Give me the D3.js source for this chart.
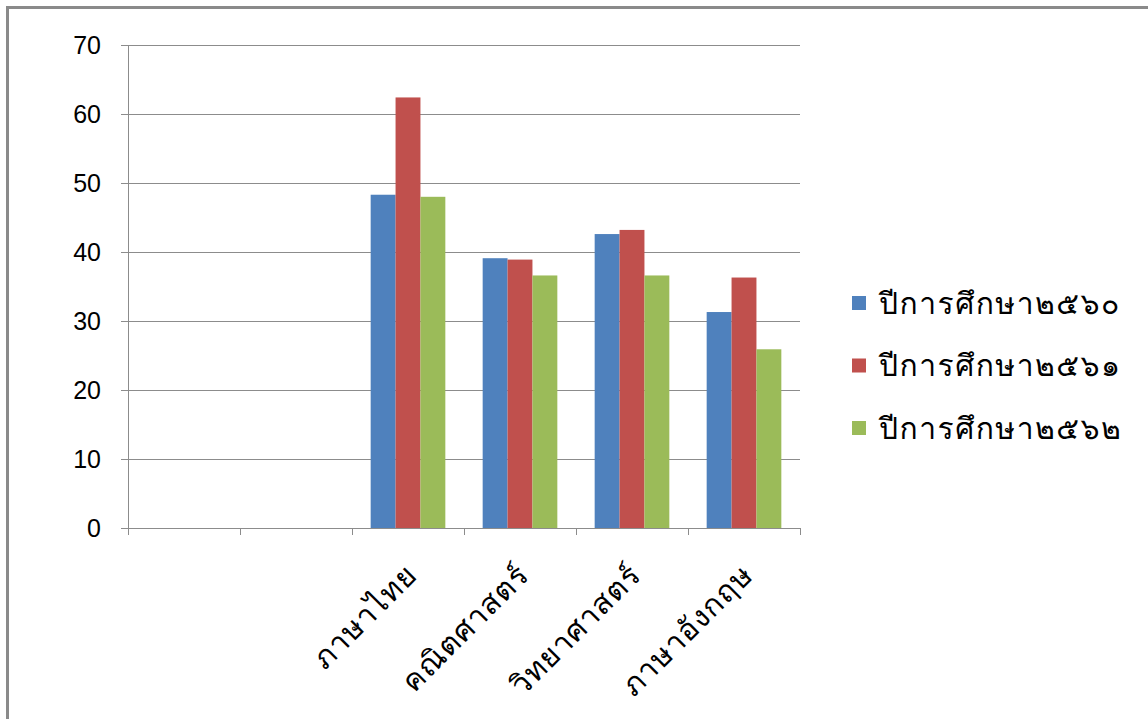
<!DOCTYPE html>
<html>
<head>
<meta charset="utf-8">
<script src="https://cdn.jsdelivr.net/npm/d3@7"></script>
<style>
  html, body { margin: 0; padding: 0; background: #fff; }
  svg { display: block; }
  text { font-family: "Liberation Sans", "Open Sans", sans-serif; fill: #000; }
  .thai { font-family: "Tahoma", "Loma", "Garuda", "Kinnari", "Norasi", "Waree", "Noto Sans Thai Looped", "Noto Sans Thai", "Liberation Sans", sans-serif; }
</style>
</head>
<body>
<div id="chart"></div>
<script>
// Data
const categories = ["", " ", "ภาษาไทย", "คณิตศาสตร์", "วิทยาศาสตร์", "ภาษาอังกฤษ"];
const seriesNames = ["ปีการศึกษา๒๕๖๐", "ปีการศึกษา๒๕๖๑", "ปีการศึกษา๒๕๖๒"];
const values2560 = [null, null, 48.3, 39.1, 42.6, 31.3];
const values2561 = [null, null, 62.4, 38.9, 43.2, 36.3];
const values2562 = [null, null, 48.0, 36.6, 36.6, 25.9];
const yTicks = [0, 10, 20, 30, 40, 50, 60, 70];
const colors = ["#4f81bd", "#c0504d", "#9bbb59"];

(() => {
  const W = 1148, H = 719;
  const M = { left: 128, right: 800, top: 45, bottom: 528 };

  const svg = d3.select("#chart").append("svg")
    .attr("width", W).attr("height", H);

  // outer frame (left/top edges only visible)
  svg.append("rect").attr("x", 7.5).attr("y", 7.5)
    .attr("width", W + 20).attr("height", H + 20)
    .attr("fill", "#fff").attr("stroke", "#8a8a8a").attr("stroke-width", 3);

  const x = d3.scaleBand().domain(d3.range(categories.length))
    .range([M.left, M.right]);
  const inner = d3.scaleBand().domain(d3.range(seriesNames.length))
    .range([0, x.bandwidth()]).paddingInner(0).paddingOuter(0.75);
  const y = d3.scaleLinear().domain([0, 70]).range([M.bottom, M.top]);

  // gridlines
  svg.append("g").selectAll("line").data(yTicks).join("line")
    .attr("x1", M.left - 7).attr("x2", M.right)
    .attr("y1", d => Math.round(y(d)) + 0.5).attr("y2", d => Math.round(y(d)) + 0.5)
    .attr("stroke", "#8c8c8c").attr("stroke-width", 1);

  // y axis line
  svg.append("line").attr("x1", M.left + 0.5).attr("x2", M.left + 0.5)
    .attr("y1", M.top).attr("y2", M.bottom + 7)
    .attr("stroke", "#8c8c8c");

  // y labels
  svg.append("g").selectAll("text").data(yTicks).join("text")
    .attr("x", 101).attr("y", d => y(d))
    .attr("dy", "0.36em").attr("text-anchor", "end")
    .attr("font-size", 25).attr("fill", "#222")
    .text(d => d);

  // x ticks
  const tickX = d3.range(categories.length + 1).map(i => i < categories.length ? x(i) : M.right);
  svg.append("g").selectAll("line").data(tickX).join("line")
    .attr("x1", d => Math.round(d) + 0.5).attr("x2", d => Math.round(d) + 0.5)
    .attr("y1", M.bottom).attr("y2", M.bottom + 7)
    .attr("stroke", "#8c8c8c");

  // bars
  const series = [values2560, values2561, values2562];
  series.forEach((vals, si) => {
    svg.append("g").selectAll("rect")
      .data(vals.map((v, i) => ({ v, i })).filter(d => d.v != null))
      .join("rect")
      .attr("x", d => x(d.i) + inner(si))
      .attr("width", inner.bandwidth())
      .attr("y", d => y(d.v))
      .attr("height", d => y(0) - y(d.v))
      .attr("fill", colors[si]);
  });

  // x labels, rotated
  svg.append("g").selectAll("text").data(categories).join("text")
    .attr("class", "thai")
    .attr("transform", (d, i) => `translate(${x(i) + x.bandwidth() / 2 - 4},${M.bottom + 34}) rotate(-45)`)
    .attr("text-anchor", "end")
    .attr("dy", "0.7em")
    .attr("font-size", 30)
    .attr("letter-spacing", 1)
    .text(d => d.trim());

  // legend
  const lg = svg.append("g").attr("transform", "translate(852,303)");
  seriesNames.forEach((name, i) => {
    const row = lg.append("g").attr("transform", `translate(0,${i * 62.5})`);
    row.append("rect").attr("x", 0).attr("y", -7).attr("width", 14).attr("height", 14)
      .attr("fill", colors[i]);
    row.append("text").attr("class", "thai").attr("x", 27).attr("y", 0).attr("dy", "0.36em")
      .attr("font-size", 30).attr("letter-spacing", 1.5).text(name);
  });
})();
</script>
</body>
</html>
